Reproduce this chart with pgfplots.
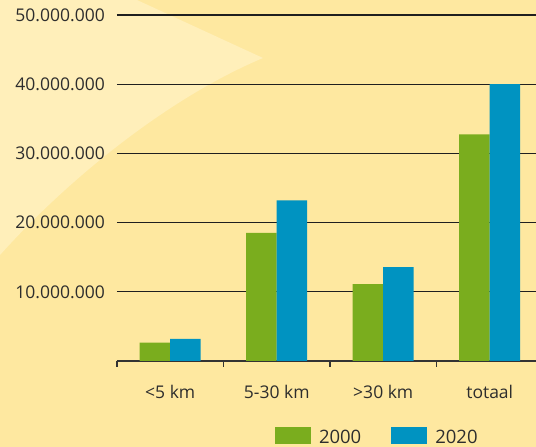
\documentclass[border=0pt]{standalone}
\usepackage{pgfplots}
\pgfplotsset{compat=1.18}
\usepackage{fontspec}
\setmainfont{Open Sans}

\definecolor{bgyellow}{RGB}{254,232,160}
\definecolor{bglight}{RGB}{255,239,186}
\definecolor{bargreen}{RGB}{122,173,30}
\definecolor{barblue}{RGB}{0,147,193}
\definecolor{txt}{RGB}{45,45,45}
\newcommand{\lblfont}{\fontsize{17.5}{20}\selectfont}
\newcommand{\legfont}{\fontsize{18.5}{21}\selectfont}

\pgfplotsset{
  boxleg/.style={legend image code/.code={\fill[##1] (0pt,-7pt) rectangle (36pt,10.7pt);}}
}

\begin{document}
\begin{tikzpicture}[x=1pt,y=1pt]
\useasboundingbox (0,0) rectangle (536,447);
% background
\fill[bgyellow] (0,0) rectangle (536,447);
\fill[bglight] (0,447) -- (137,447) -- (263,389)
  .. controls (170,350) and (70,270) .. (0,192) -- cycle;

\begin{axis}[
  at={(117pt,86pt)}, anchor=south west,
  scale only axis, width=426pt, height=346pt,
  xmin=-0.5, xmax=3.5, ymin=0, ymax=50000000,
  ybar=0pt, bar width=30.5pt,
  axis lines*=left, axis line style={-},
  y axis line style={draw=none},
  x axis line style={draw=black!80, line width=1.2pt},
  xtick={-0.5,0.5,1.5,2.5,3.5},
  x tick label as interval,
  xticklabels={{<5 km},{5-30 km},{>30 km},{totaal}},
  tick align=outside,
  major x tick style={draw=black!80, line width=1.2pt},
  major tick length=6pt,
  scaled y ticks=false,
  ytick={10000000,20000000,30000000,40000000,50000000},
  yticklabels={10.000.000,20.000.000,30.000.000,40.000.000,50.000.000},
  major y tick style={draw=none},
  ymajorgrids,
  grid style={draw=black!88, line width=1.3pt},
  xticklabel style={font=\lblfont, text=txt, inner sep=0pt, yshift=-18pt},
  yticklabel style={font=\lblfont, text=txt, inner sep=0pt, xshift=-6pt},
  legend style={draw=none, fill=none, inner sep=0pt, outer sep=0pt,
    at={(0.3709,-0.2419)}, anchor=south west,
    font=\legfont, text=txt,
    nodes={inner sep=0pt},
    /tikz/every odd column/.style={column sep=8pt},
    /tikz/every even column/.style={column sep=30pt}},
  legend columns=2,
]
\addplot[fill=bargreen, draw=none, boxleg]
  coordinates {(0,2640000) (1,18500000) (2,11100000) (3,32750000)};
\addplot[fill=barblue, draw=none, boxleg]
  coordinates {(0,3180000) (1,23200000) (2,13550000) (3,40000000)};
\legend{2000,2020}
\end{axis}
\end{tikzpicture}
\end{document}
